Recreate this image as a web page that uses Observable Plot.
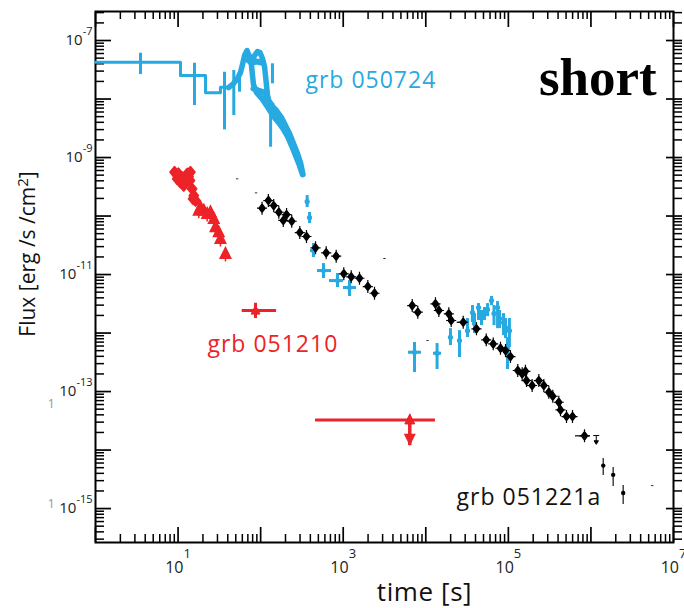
<!DOCTYPE html>
<html>
<head>
<meta charset="utf-8">
<script src="https://cdn.jsdelivr.net/npm/d3@7"></script>
<script src="https://cdn.jsdelivr.net/npm/@observablehq/plot@0.6"></script>
<style>
  body { margin: 0; background: #fff; }
  #chart svg { display: block; }
  g[font-size="23"] text { letter-spacing: 1px; }
  g[font-size="26"] text { letter-spacing: 0.6px; }
</style>
</head>
<body>
<div id="chart"></div>
<script>
// ---------------- data ----------------
// tick values
const xMajor = [1, 10, 100, 1e3, 1e4, 1e5, 1e6, 1e7];
const xLabelTicks = [10, 1e3, 1e5, 1e7];
const yMajor = [1e-15, 1e-14, 1e-13, 1e-12, 1e-11, 1e-10, 1e-9, 1e-8, 1e-7];
const yLabelTicks = [1e-15, 1e-13, 1e-11, 1e-9, 1e-7];
const xDomain = [1, 1e7];
const yDomain = [10 ** -15.58, 10 ** -6.504];

// grb 050724 (blue): step part [time, flux]
const blueStep = [[1, 4.26e-8], [10.7, 2.52e-8], [21.5, 1.28e-8], [32.6, 1.59e-8], [40.8, 1.59e-8]];
// vertical error bars on early part [time, lo, hi]
const blueBars = [[3.51, 2.62e-8, 6.07e-8], [15.8, 7.74e-9, 4.09e-8], [36.5, 2.97e-9, 2.87e-8],
  [47.3, 5.22e-9, 3.07e-8], [55.5, 1.31e-8, 2.87e-8], [132, 1.5e-9, 9.42e-9], [139, 1.82e-8, 4.0e-8]];
// dense flaring light curve: upper / right edge [time, flux]
const blueTraceA = [[40.8, 1.57e-8], [46.9, 1.84e-8], [52.5, 2.24e-8], [57.0, 2.84e-8], [60.3, 3.89e-8],
  [63.8, 5.54e-8], [68.4, 6.75e-8], [73.3, 5.33e-8], [78.6, 4.55e-8], [84.3, 5.54e-8], [91.6, 6.49e-8],
  [98.2, 6.24e-8], [105.3, 4.92e-8], [111.4, 3.59e-8], [114.5, 2.52e-8], [117.8, 1.7e-8], [121.1, 1.15e-8],
  [128.1, 8.38e-9], [155.6, 6.36e-9], [178.9, 4.83e-9], [200, 3.52e-9], [223.6, 2.57e-9], [250, 1.73e-9],
  [279.5, 1.17e-9], [303.8, 8.21e-10], [325.8, 5.12e-10]];
// left edge of the flare loop
const blueTraceB = [[73.3, 5.33e-8], [77.5, 3.74e-8], [79.7, 2.52e-8], [81.9, 1.77e-8], [89.1, 1.29e-8],
  [105.3, 9.81e-9], [124.5, 6.88e-9], [143.1, 5.02e-9], [164.6, 3.97e-9], [189.2, 3.01e-9], [211.5, 2.29e-9],
  [236.5, 1.6e-9], [264.4, 1.08e-9], [295.5, 7.3e-10], [321.4, 5.12e-10]];
// band below the loop
const blueTraceC = [[81.9, 1.51e-8], [94.2, 1.4e-8], [111.4, 1.29e-8], [121.1, 9.43e-9], [135.4, 8.05e-9]];
// band above the loop (between the two peaks)
const blueTraceD = [[71.3, 4.55e-8], [79.7, 4.21e-8], [89.1, 4.38e-8], [102.4, 4.21e-8]];
// centre of the decaying band
const blueTraceE = [[114.5, 9.43e-9], [131.7, 6.88e-9], [151.4, 5.22e-9], [174, 4.12e-9], [194.5, 3.13e-9],
  [217.5, 2.38e-9], [243.1, 1.67e-9], [271.9, 1.17e-9], [295.5, 8.21e-10], [321.4, 5.54e-10]];
// later points [time, flux, lo, hi, tLo, tHi]
const blueLate = [[366, 1.77e-10, 1.4e-10, 2.24e-10], [391, 9.42e-11, 7.45e-11, 1.15e-10],
  [437, 2.57e-11, 1.95e-11, 3.39e-11, 402, 475], [577, 1.17e-11, 8.55e-12, 1.54e-11, 488, 722],
  [853, 7.89e-12, 6.0e-12, 1.04e-11, 682, 1007], [1192, 6.0e-12, 4.21e-12, 7.89e-12, 1007, 1449],
  [7300, 4.7e-13, 2.11e-13, 6.89e-13, 6180, 8870], [13700, 4.52e-13, 2.38e-13, 6.62e-13, 12400, 15500],
  [19900, 8.47e-13, 6.11e-13, 1.19e-12], [25600, 7.45e-13, 3.81e-13, 1.1e-12], [32000, 1.1e-12, 8.37e-13, 1.77e-12],
  [36800, 2.24e-12, 1.51e-12, 2.95e-12], [38900, 1.45e-12, 9.8e-13, 2.15e-12], [43500, 2.73e-12, 1.64e-12, 3.19e-12],
  [47300, 1.84e-12, 1.34e-12, 2.43e-12], [51400, 2.15e-12, 1.64e-12, 2.73e-12], [56000, 2.52e-12, 1.91e-12, 3.19e-12],
  [62500, 3.6e-12, 2.95e-12, 4.21e-12], [67000, 2.15e-12, 1.34e-12, 2.95e-12], [74000, 2.73e-12, 1.19e-12, 3.45e-12],
  [78200, 1.77e-12, 1.19e-12, 2.43e-12], [87400, 1.51e-12, 9.06e-13, 2.15e-12], [92400, 1.24e-12, 8.05e-13, 1.77e-12],
  [103000, 1.1e-12, 5.65e-13, 1.77e-12], [97700, 5.43e-13, 2.38e-13, 8.37e-13]];

// grb 051221a (black) diamonds [time, flux]
const blackPts = [[104, 1.36e-10], [124, 1.84e-10], [144, 1.51e-10], [166, 1.16e-10], [188, 8.4e-11],
  [206, 1.06e-10], [238, 8.15e-11], [298, 5.22e-11], [359, 4.47e-11], [462, 2.86e-11], [622, 2.35e-11],
  [822, 2.06e-11], [1016, 1.03e-11], [1250, 9.14e-12], [1574, 8.65e-12], [1986, 6.24e-12], [2393, 4.79e-12],
  [6850, 2.95e-12], [8000, 2.27e-12], [13100, 3.16e-12], [14400, 2.43e-12], [19000, 2.13e-12],
  [20300, 1.64e-12], [28400, 1.53e-12], [41100, 1.18e-12], [54000, 7.65e-13], [65600, 6.53e-13],
  [80300, 5.5e-13], [92400, 5.02e-13], [106000, 3.96e-13], [130000, 2.29e-13], [147000, 2.01e-13],
  [161000, 2.22e-13], [166000, 1.54e-13], [194000, 1.27e-13], [234000, 1.54e-13], [269000, 1.27e-13],
  [309000, 9.73e-14], [345000, 8.32e-14], [408000, 6.56e-14], [428000, 4.86e-14], [506000, 3.74e-14],
  [598000, 3.74e-14], [836000, 1.75e-14]];
// horizontal bars [flux, tLo, tHi]
const blackXerr = [[1.53e-12, 24000, 32300], [1.75e-14, 650000, 988000]];
// late small points [time, flux, lo, hi]
const blackSmall = [[1.41e6, 5.43e-15, 3.66e-15, 7.16e-15], [1.86e6, 3.77e-15, 2.38e-15, 5.02e-15],
  [2.46e6, 1.85e-15, 1.17e-15, 2.47e-15]];
const blackLimit = [[1.16e6, 1.77e-14]];
const blackFaint = [[52, 4.32e-10], [88, 2.49e-10], [3160, 1.88e-11], [10500, 7.45e-13], [5.52e6, 2.47e-15]];

// grb 051210 (red)
const redDiamonds = [[9.06, 5.61e-10], [9.76, 4.32e-10], [10.1, 5.32e-10], [10.7, 3.78e-10], [11.3, 4.55e-10],
  [11.7, 3.32e-10], [12.5, 4.05e-10], [12.9, 5.26e-10], [13.4, 4.73e-10], [13.9, 4.05e-10], [14.1, 5.61e-10],
  [14.8, 2.92e-10], [15.2, 1.97e-10], [15.5, 2.24e-10], [16.3, 1.84e-10]];
const redTriangles = [[17.8, 1.24e-10], [18.7, 1.41e-10], [20.5, 1.24e-10], [22.5, 1.09e-10], [24.7, 1.16e-10],
  [27.1, 8.95e-11], [28.4, 6.44e-11], [31.1, 5.28e-11], [32.6, 4.07e-11], [37.5, 2.26e-11]];
// [time, flux, lo, hi, tLo, tHi]
const redLone = [[86.7, 2.43e-12, 1.77e-12, 3.23e-12, 59.8, 156]];
// upper limit [time, flux, arrowTip, tLo, tHi]
const redLimit = [[6400, 3.28e-14, 1.19e-14, 462, 13100]];

// labels [text, time, flux, colour]
const grbLabels = [["grb 050724", 349, 1.57e-8, "#27a9e1"], ["grb 051210", 22.7, 4.7e-13, "#ec2328"],
  ["grb 051221a", 23600, 1.17e-15, "#111"]];
const panelLabel = [["short", 6.27e6, 1.15e-8]];
const strayMarks = [[6.24e-14], [1.22e-15]];

// ---------------- helpers ----------------
const minorOf = (lo, hi) => { const out = []; for (let e = lo; e <= hi; e++) for (let k = 2; k <= 9; k++) out.push(k * 10 ** e); return out; };
const xMinor = minorOf(0, 6);
const yMinor = minorOf(-16, -7).filter(v => v >= yDomain[0] && v <= yDomain[1]);

const rad = size => Math.sqrt(size / Math.PI);
const symDiamond = {draw(c, size) { const s = rad(size);
  c.moveTo(0, -1.2 * s); c.lineTo(0.9 * s, 0); c.lineTo(0, 1.2 * s); c.lineTo(-0.9 * s, 0); c.closePath();
  c.moveTo(0, -1.8 * s); c.lineTo(0, 1.8 * s); c.moveTo(-1.4 * s, 0); c.lineTo(1.4 * s, 0); }};
const symBlob = {draw(c, size) { const s = rad(size);
  c.moveTo(0, -1.15 * s); c.lineTo(0.95 * s, 0); c.lineTo(0, 1.15 * s); c.lineTo(-0.95 * s, 0); c.closePath(); }};
const symTriangle = {draw(c, size) { const s = rad(size);
  c.moveTo(0, -1.3 * s); c.lineTo(1.1 * s, 0.9 * s); c.lineTo(-1.1 * s, 0.9 * s); c.closePath();
  c.moveTo(0, -1.4 * s); c.lineTo(0, 1.6 * s); }};
const symArrowDown = {draw(c, size) { const s = rad(size);
  c.moveTo(-s, -2 * s); c.lineTo(s, -2 * s); c.lineTo(0, 0); c.closePath(); }};
const symSmallLimit = {draw(c, size) { const s = rad(size);
  c.moveTo(-1.5 * s, 0); c.lineTo(1.5 * s, 0); c.moveTo(0, 0); c.lineTo(0, 3 * s);
  c.moveTo(-1.1 * s, 2.6 * s); c.lineTo(1.1 * s, 2.6 * s); c.lineTo(0, 4.4 * s); c.closePath(); }};
const symDash = {draw(c, size) { const s = rad(size); c.moveTo(-s, 0); c.lineTo(s, 0); }};

const BLUE = "#27a9e1", RED = "#ec2328", BLACK = "#000";
const X = d => d[0], Y = d => d[1];
const traceStyle = {x: X, y: Y, stroke: BLUE, strokeLinejoin: "round", strokeLinecap: "round"};

const chart = Plot.plot({
  width: 684, height: 608,
  marginLeft: 95, marginRight: 11, marginTop: 11, marginBottom: 66,
  x: {type: "log", domain: xDomain},
  y: {type: "log", domain: yDomain},
  style: {fontFamily: "'Open Sans', sans-serif", background: "#fff", color: "#000"},
  marks: [
    // axes ticks (inward)
    Plot.axisX(xMajor, {anchor: "bottom", tickSize: -15, fill: "none", strokeWidth: 1.7}),
    Plot.axisX(xMinor, {anchor: "bottom", tickSize: -8, fill: "none", strokeWidth: 1.5}),
    Plot.axisX(xMajor, {anchor: "top", tickSize: -15, fill: "none", strokeWidth: 1.7}),
    Plot.axisX(xMinor, {anchor: "top", tickSize: -7, fill: "none", strokeWidth: 1.5}),
    Plot.axisY(yMajor, {anchor: "left", tickSize: -16, fill: "none", strokeWidth: 1.7}),
    Plot.axisY(yMinor, {anchor: "left", tickSize: -9, fill: "none", strokeWidth: 1.5}),
    Plot.axisY(yMajor, {anchor: "right", tickSize: -8, fill: "none", strokeWidth: 1.7}),
    Plot.axisY(yMajor, {anchor: "right", tickSize: 8, fill: "none", strokeWidth: 1.7}),
    Plot.axisY(yMinor, {anchor: "right", tickSize: 8, fill: "none", strokeWidth: 1.5}),
    Plot.frame({stroke: "#000", strokeWidth: 2}),

    // tick labels
    Plot.text(yLabelTicks, {y: d => d, frameAnchor: "left", dx: -3, textAnchor: "end", lineAnchor: "middle",
      text: d => `10^{-${Math.round(-Math.log10(d))}}`, fontSize: 15, fill: "#222"}),
    Plot.text(xLabelTicks, {x: d => d, frameAnchor: "bottom", dy: 30, textAnchor: "middle", lineAnchor: "bottom",
      text: d => `10^{${Math.round(Math.log10(d))}}`, fontSize: 16, fill: "#222"}),
    Plot.text(strayMarks, {y: d => d[0], frameAnchor: "left", dx: -48, text: () => "1", fontSize: 13, fill: "#999"}),

    // axis titles
    Plot.text(["time [s]"], {text: d => d, frameAnchor: "bottom", dx: 40, dy: 58, lineAnchor: "bottom",
      fontSize: 26, fill: "#111"}),
    Plot.text(["Flux [erg /s /cm^{2}]"], {text: d => d, frameAnchor: "left", dx: -67, dy: -23, rotate: -90,
      textAnchor: "middle", lineAnchor: "middle", fontSize: 21, fill: "#111"}),

    // grb 050724 (blue)
    Plot.line(blueStep, {x: X, y: Y, curve: "step-after", stroke: BLUE, strokeWidth: 3}),
    Plot.ruleX(blueBars, {x: X, y1: d => d[1], y2: d => d[2], stroke: BLUE, strokeWidth: 3}),
    Plot.line(blueTraceA, {...traceStyle, strokeWidth: 5.5}),
    Plot.line(blueTraceB, {...traceStyle, strokeWidth: 5.5}),
    Plot.line(blueTraceC, {...traceStyle, strokeWidth: 6}),
    Plot.line(blueTraceD, {...traceStyle, strokeWidth: 6}),
    Plot.line(blueTraceE, {...traceStyle, strokeWidth: 5}),
    Plot.ruleX(blueLate, {x: X, y1: d => d[2], y2: d => d[3], stroke: BLUE, strokeWidth: 3}),
    Plot.ruleY(blueLate.filter(d => d[4]), {y: Y, x1: d => d[4], x2: d => d[5], stroke: BLUE, strokeWidth: 3}),
    Plot.dot(blueLate, {x: X, y: Y, r: 2.6, fill: BLUE}),

    // grb 051221a (black)
    Plot.dot(blackFaint, {x: X, y: Y, r: 1.2, symbol: symDash, stroke: "#333", strokeWidth: 1, fill: "none"}),
    Plot.ruleY(blackXerr, {y: d => d[0], x1: d => d[1], x2: d => d[2], stroke: BLACK, strokeWidth: 1.2}),
    Plot.dot(blackPts, {x: X, y: Y, r: 3.6, symbol: symDiamond, fill: BLACK, stroke: BLACK, strokeWidth: 1.2}),
    Plot.ruleX(blackSmall, {x: X, y1: d => d[2], y2: d => d[3], stroke: "#444", strokeWidth: 1.5}),
    Plot.dot(blackSmall, {x: X, y: Y, r: 2.2, fill: BLACK}),
    Plot.dot(blackLimit, {x: X, y: Y, r: 2, symbol: symSmallLimit, fill: BLACK, stroke: BLACK, strokeWidth: 1}),

    // grb 051210 (red)
    Plot.dot(redDiamonds, {x: X, y: Y, r: 4.6, symbol: symBlob, fill: RED, stroke: RED, strokeWidth: 2, strokeLinejoin: "round"}),
    Plot.dot(redTriangles, {x: X, y: Y, r: 4.8, symbol: symTriangle, fill: RED, stroke: RED, strokeWidth: 1.5}),
    Plot.ruleY(redLone, {y: Y, x1: d => d[4], x2: d => d[5], stroke: RED, strokeWidth: 3}),
    Plot.ruleX(redLone, {x: X, y1: d => d[2], y2: d => d[3], stroke: RED, strokeWidth: 3}),
    Plot.dot(redLone, {x: X, y: Y, r: 4, symbol: symTriangle, fill: RED, stroke: RED, strokeWidth: 1}),
    Plot.ruleY(redLimit, {y: Y, x1: d => d[3], x2: d => d[4], stroke: RED, strokeWidth: 3}),
    Plot.ruleX(redLimit, {x: X, y1: Y, y2: d => d[2], stroke: RED, strokeWidth: 3.5}),
    Plot.dot(redLimit, {x: X, y: Y, r: 4.5, symbol: symTriangle, fill: RED, stroke: RED, strokeWidth: 1}),
    Plot.dot(redLimit, {x: X, y: d => d[2], r: 6, symbol: symArrowDown, fill: RED}),

    // labels
    Plot.text(grbLabels, {x: d => d[1], y: d => d[2], text: d => d[0], fill: d => d[3], textAnchor: "start",
      lineAnchor: "bottom", fontSize: 23}),
    Plot.text(panelLabel, {x: d => d[1], y: d => d[2], text: d => d[0], textAnchor: "end", lineAnchor: "bottom",
      fontSize: 53, fontWeight: "bold", fontFamily: "'Liberation Serif', 'Times New Roman', serif", fill: "#000"})
  ]
});

document.getElementById("chart").appendChild(chart);

// superscripts: "base^{sup}rest" -> tspans
const NS = "http://www.w3.org/2000/svg";
const supStyle = {"15": [-10, 11], "16": [-15, 13], "21": [-7, 15]};
chart.querySelectorAll("text").forEach(t => {
  const m = t.textContent.match(/^(.*?)\^\{(.*?)\}(.*)$/);
  if (!m) return;
  const g = t.closest("[font-size]");
  const fsz = g ? g.getAttribute("font-size") : "15";
  const [dy, fs] = supStyle[fsz] || [-8, 11];
  t.textContent = m[1];
  const e = document.createElementNS(NS, "tspan");
  e.setAttribute("dy", dy); e.setAttribute("font-size", fs); e.textContent = m[2];
  t.appendChild(e);
  if (m[3]) {
    const r = document.createElementNS(NS, "tspan");
    r.setAttribute("dy", -dy); r.textContent = m[3];
    t.appendChild(r);
  }
});
</script>
</body>
</html>
